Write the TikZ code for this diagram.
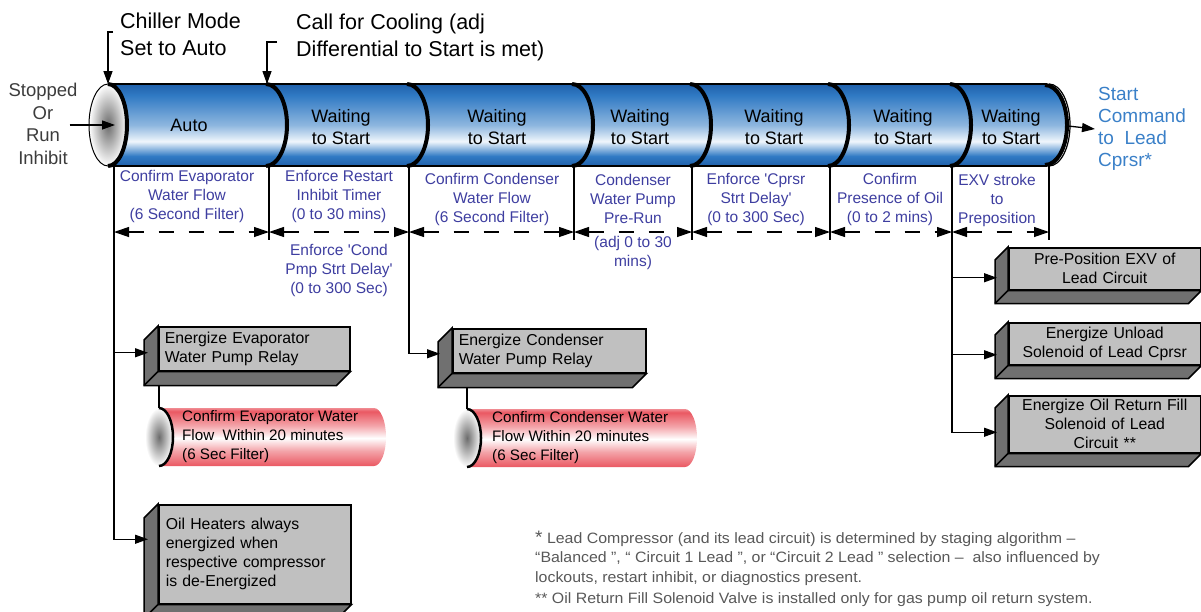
\documentclass[tikz,border=0pt]{standalone}
\usepackage{fontspec}
\setmainfont{Liberation Sans}[Ligatures=TeXOff]
\newfontfamily\notefont{Liberation Sans}[FakeStretch=1.06]
\usetikzlibrary{arrows.meta}

\definecolor{tubeblue}{RGB}{48,122,196}
\definecolor{tubedark}{RGB}{32,96,170}
\definecolor{tubelight}{RGB}{240,246,252}
\definecolor{tubered}{RGB}{234,88,98}
\definecolor{slabface}{RGB}{192,192,192}
\definecolor{slabside}{RGB}{112,112,112}
\definecolor{labelblue}{RGB}{62,62,160}
\definecolor{cmdblue}{RGB}{58,128,200}
\definecolor{notegray}{RGB}{88,88,88}
\definecolor{stopgray}{RGB}{60,60,60}

\pgfdeclareverticalshading{bluetube}{100bp}{color(0bp)=(tubedark); color(25bp)=(tubedark);
  color(31bp)=(tubeblue); color(40bp)=(tubelight); color(50bp)=(tubeblue!55!white);
  color(68bp)=(tubeblue); color(75bp)=(tubedark); color(100bp)=(tubedark)}
\pgfdeclareverticalshading{redtube}{100bp}{color(0bp)=(tubered); color(25bp)=(tubered);
  color(38bp)=(tubered!55!white); color(49bp)=(white); color(60bp)=(tubered!55!white);
  color(72bp)=(tubered); color(75bp)=(tubered!70!white); color(100bp)=(tubered!70!white)}

\tikzset{
  flowarrow/.style={-{Triangle[length=13pt,width=9pt]}, line width=1.3pt},
  spanarrow/.style={{Triangle[length=15pt,width=10pt]}-{Triangle[length=15pt,width=10pt]},
    line width=1.2pt, dash pattern=on 15pt off 15pt},
  divider/.style={line width=4pt},
  stagetext/.style={font=\fontsize{18}{22}\selectfont, align=center},
  steplabel/.style={font=\fontsize{15.5}{19}\selectfont, text=labelblue, align=center},
  eventtext/.style={font=\fontsize{21.5}{27}\selectfont, align=left, anchor=west, inner sep=0pt},
  slab/.style={draw=black, line width=1.5pt, fill=slabface, anchor=north west,
    inner xsep=6pt, inner ysep=0pt, font=\fontsize{15.8}{19}\selectfont},
  tubenote/.style={font=\fontsize{15.2}{19}\selectfont, align=left, anchor=west, inner sep=0pt},
  endcap/.style={inner color=gray!85!black, outer color=white},
}

% left and bottom faces of a slab node
\newcommand\slabsides[2]{%
  \filldraw[fill=slabside, line width=1.5pt] (#1.north west) -- ++(-#2,#2)
    -- ([shift={(-#2,#2)}]#1.south west) -- ([shift={(-#2,#2)}]#1.south east)
    -- (#1.south east) -- (#1.south west) -- cycle;
  \draw[line width=1.5pt] (#1.south west) -- ++(-#2,#2);
}

\begin{document}
\begin{tikzpicture}[x=1pt,y=-1pt]
  \useasboundingbox (0,0) rectangle (1201,611);

  % main tube
  \shade[shading=bluetube] (108,84) -- (1047,84) arc(-90:90:21 and 41) -- (108,166) -- cycle;
  \draw[line width=2.2pt] (108,84) -- (1047,84) (1047,166) -- (108,166);
  \draw[divider] (1045,85) arc(-90:90:22 and 40);
  \draw[line width=1.2pt] (1049,84) arc(-90:90:21 and 41);
  \shade[endcap] (108,125) ellipse (19 and 41);
  \draw[line width=1pt] (108,125) ellipse (19 and 41);
  \draw[divider] (108,84) arc(-90:90:19 and 41);
  \foreach \x in {266,407,572,690,828,950}
    \draw[divider] (\x,84) arc(-90:90:21 and 41);
  \coordinate (tubestart) at (108,84);
  \coordinate (capcentre) at (115,125);
  \coordinate (tubeend) at (1068,126);
  \coordinate (callpoint) at (267,84);

  % stages
  \node[stagetext] (stage0) at (189,125) {Auto};
  \foreach \x [count=\i] in {341,497,640,774,903,1011}
    \node[stagetext] (stage\i) at (\x,127) {Waiting\\to Start};

  % events
  \node[eventtext] (chiller) at (120,34.5) {Chiller Mode\\Set to Auto};
  \node[eventtext] (callcool) at (296,37) {Call for Cooling (adj\\Differential to Start is met)};
  \coordinate (chilltick) at (113,32);
  \coordinate (calltick) at (277,42);
  \draw[flowarrow] (chilltick) -| (tubestart);
  \draw[flowarrow] (calltick) -| (callpoint);
  \node[font=\fontsize{18.5}{22.7}\selectfont, text=stopgray, align=center, inner sep=0pt] (stopped) at (43,124)
    {Stopped\\Or\\Run\\Inhibit};
  \draw[flowarrow] ([shift={(-8,1)}]stopped.east) -- (capcentre);
  \node[font=\fontsize{19}{22}\selectfont, text=cmdblue, align=left, anchor=west, inner sep=0pt] (startcmd) at (1098,129)
    {Start\\Command\\to\ \ Lead\\Cprsr*};
  \draw[flowarrow] (tubeend) -- ([xshift=-3pt]startcmd.west);

  % timeline below the tube
  \foreach \x [count=\i from 0] in {114,269,409,574,692,830,952,1049} {
    \coordinate (v\i) at (\x,166);
    \coordinate (m\i) at (\x,232);
    \coordinate (t\i) at (\x,240);
  }
  \foreach \i in {1,3,4,5,7}
    \draw[line width=1.3pt] (v\i) -- (t\i);
  \foreach \i/\j in {0/1,1/2,2/3,3/4,4/5,5/6,6/7}
    \draw[spanarrow] (m\i) -- (m\j);

  \node[steplabel] (lab1) at (187,196) {Confirm Evaporator\\Water Flow\\(6 Second Filter)};
  \node[steplabel] (lab2) at (339,196) {Enforce Restart\\Inhibit Timer\\(0 to 30 mins)};
  \node[steplabel] (lab2b) at (339,270) {Enforce 'Cond\\Pmp Strt Delay'\\(0 to 300 Sec)};
  \node[steplabel] (lab3) at (492,199) {Confirm Condenser\\Water Flow\\(6 Second Filter)};
  \node[steplabel] (lab4) at (633,199) {Condenser\\Water Pump\\Pre-Run};
  \node[steplabel] (lab4b) at (633,253) {(adj 0 to 30\\mins)};
  \node[steplabel] (lab5) at (756,199) {Enforce 'Cprsr\\Strt Delay'\\(0 to 300 Sec)};
  \node[steplabel] (lab6) at (890,199) {Confirm\\Presence of Oil\\(0 to 2 mins)};
  \node[steplabel] (lab7) at (997,200) {EXV stroke\\to\\Preposition};

  % evaporator side
  \node[slab, minimum width=191pt, minimum height=44pt, text width=179pt, align=left] (evapbox)
    at (158,326) {Energize Evaporator\\Water Pump Relay};
  \slabsides{evapbox}{14}
  \node[slab, minimum width=190pt, minimum height=99pt, text width=178pt, align=left, inner xsep=7pt] (heatbox)
    at (158,504) {Oil Heaters always\\energized when\\respective compressor\\is de-Energized};
  \slabsides{heatbox}{14}
  \draw[flowarrow] (v0 |- evapbox.west) ++(0,4) -- ([shift={(-10,4)}]evapbox.west);
  \draw[flowarrow] (v0) |- ([shift={(-10,-15)}]heatbox.west);

  \shade[shading=redtube] (159,408) -- (374,408) arc(-90:90:12 and 29) -- (159,466) -- cycle;
  \shade[endcap] (159,437) ellipse (14 and 29);
  \draw[line width=2.5pt] (159,408) arc(-90:90:14 and 29);
  \coordinate (evaptop) at (159,408);
  \node[tubenote] (evapnote) at (182,437) {Confirm Evaporator Water\\Flow\ \ Within 20 minutes\\(6 Sec Filter)};
  \draw[line width=1.3pt] ([shift={(1,14)}]evapbox.south west) -- (evaptop);

  % condenser side
  \node[slab, minimum width=193pt, minimum height=44pt, text width=181pt, align=left] (condbox)
    at (452,328) {Energize Condenser\\Water Pump Relay};
  \slabsides{condbox}{14}
  \draw[flowarrow] (v2) |- ([shift={(-12,3)}]condbox.west);

  \shade[shading=redtube] (467,409) -- (685,409) arc(-90:90:12 and 29) -- (467,467) -- cycle;
  \shade[endcap] (467,438) ellipse (14 and 29);
  \draw[line width=2.5pt] (467,409) arc(-90:90:14 and 29);
  \coordinate (condtop) at (467,409);
  \node[tubenote] (condnote) at (492,438) {Confirm Condenser Water\\Flow Within 20 minutes\\(6 Sec Filter)};
  \draw[line width=1.3pt] ([shift={(15,14)}]condbox.south west) -- (condtop);

  % lead circuit side
  \node[slab, minimum width=192pt, minimum height=42pt, text width=180pt, align=center] (exvbox)
    at (1008,247) {Pre-Position EXV of\\Lead Circuit};
  \slabsides{exvbox}{13}
  \node[slab, minimum width=192pt, minimum height=42pt, text width=180pt, align=center] (unloadbox)
    at (1008,322) {Energize Unload\\Solenoid of Lead Cprsr};
  \slabsides{unloadbox}{13}
  \node[slab, minimum width=192pt, minimum height=57pt, text width=180pt, align=center] (oilbox)
    at (1008,395) {Energize Oil Return Fill\\Solenoid of Lead\\Circuit **};
  \slabsides{oilbox}{13}
  \draw[flowarrow] (v6 |- exvbox.west) ++(0,9) -- ([shift={(-11,9)}]exvbox.west);
  \draw[flowarrow] (v6 |- unloadbox.west) ++(0,11) -- ([shift={(-11,11)}]unloadbox.west);
  \draw[flowarrow] (v6) |- ([shift={(-11,8)}]oilbox.west);

  % notes
  \node[font=\notefont\fontsize{15}{19.5}\selectfont, text=notegray, align=left, anchor=west, inner sep=0pt] (notes)
    at (535,569) {{\fontsize{18}{19.5}\selectfont *} Lead Compressor (and its lead circuit) is determined by staging algorithm –\\
    “Balanced ”, “ Circuit 1 Lead ”, or “Circuit 2 Lead ” selection –\ \ also influenced by\\
    lockouts, restart inhibit, or diagnostics present.\\[2pt]
    ** Oil Return Fill Solenoid Valve is installed only for gas pump oil return system.};
\end{tikzpicture}
\end{document}
